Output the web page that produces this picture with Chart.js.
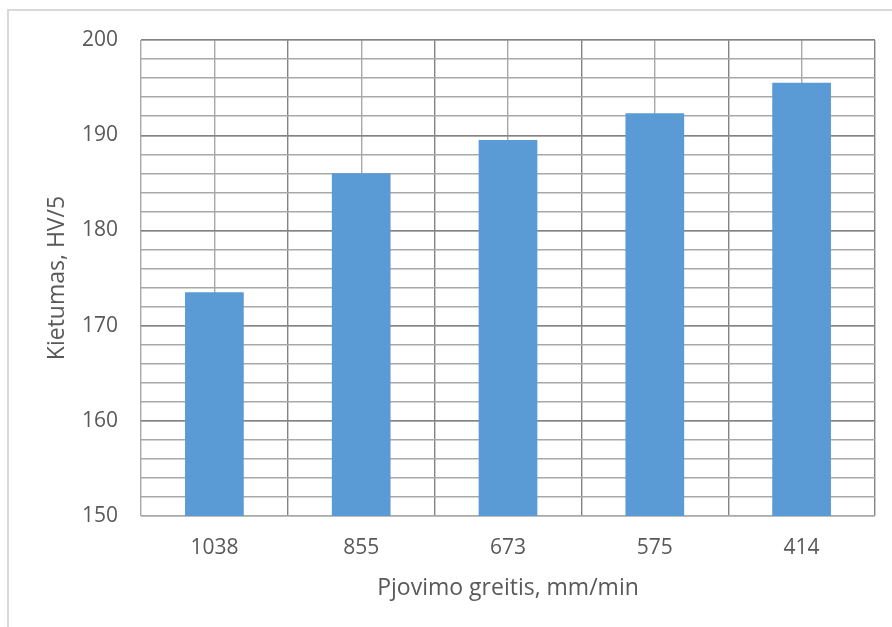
<!DOCTYPE html>
<html>
<head>
<meta charset="utf-8">
<script src="https://cdn.jsdelivr.net/npm/chart.js@4/dist/chart.umd.min.js"></script>
<style>
  html, body { margin: 0; padding: 0; background: #ffffff; overflow: hidden; }
  #wrap { position: relative; width: 892px; height: 627px; overflow: hidden; }
  #frame { position: absolute; left: 7px; top: 9px; width: 1200px; height: 1200px;
           border: 2px solid #d9d9d9; box-sizing: border-box; }
  canvas { position: absolute; left: 0; top: 0; }
</style>
</head>
<body>
<div id="wrap">
  <div id="frame"></div>
  <canvas id="chart" width="892" height="627"></canvas>
</div>
<script>
// Cutting speed categories (mm/min) and measured hardness (HV/5)
const speeds = ['1038', '855', '673', '575', '414'];
const hardness = [173.5, 186.0, 189.5, 192.3, 195.5];
const yTicks = [150, 160, 170, 180, 190, 200];

const TEXT = '#595959';
const MAJOR = '#838383';
const MINOR = '#a8a8a8';
const FONT = "'Open Sans', 'Liberation Sans', sans-serif";

new Chart(document.getElementById('chart'), {
  type: 'bar',
  data: {
    labels: speeds,
    datasets: [{
      data: hardness,
      backgroundColor: '#5b9bd5',
      borderWidth: 0,
      categoryPercentage: 1.0,
      barPercentage: 0.4
    }]
  },
  options: {
    responsive: false,
    animation: false,
    layout: { padding: { top: 40, right: 17, left: 0, bottom: 0 } },
    plugins: { legend: { display: false }, tooltip: { enabled: false } },
    scales: {
      xMinor: {
        type: 'category',
        position: 'bottom',
        offset: true,
        display: true,
        grid: { offset: false, color: MINOR, lineWidth: 1.4, drawTicks: false },
        border: { display: false },
        ticks: { display: false },
        afterFit: s => { s.height = 0; }
      },
      x: {
        type: 'category',
        position: 'bottom',
        offset: true,
        grid: {
          offset: true,
          lineWidth: 1.4,
          drawTicks: false,
          color: ctx => (ctx.index === 0 ? MINOR : MAJOR)
        },
        border: { display: false },
        ticks: { color: TEXT, font: { family: FONT, size: 21 }, padding: 19 },
        title: {
          display: true,
          text: 'Pjovimo greitis, mm/min',
          color: TEXT,
          font: { family: FONT, size: 23 },
          padding: { top: 0, bottom: 25 }
        },
        afterFit: s => { s.height = 111; }
      },
      yMinor: {
        type: 'linear',
        position: 'left',
        min: 150,
        max: 200,
        grid: { color: MINOR, lineWidth: 1.4, drawTicks: false },
        border: { display: false },
        ticks: { display: false, stepSize: 2 },
        afterFit: s => { s.width = 0; }
      },
      y: {
        type: 'linear',
        position: 'left',
        min: 150,
        max: 200,
        grid: {
          lineWidth: 1.4,
          drawTicks: false,
          color: ctx => (ctx.tick && ctx.tick.value === 150 ? MINOR : MAJOR)
        },
        border: { display: false },
        afterBuildTicks: s => { s.ticks = yTicks.map(v => ({ value: v })); },
        ticks: { color: TEXT, font: { family: FONT, size: 21 }, padding: 23 },
        title: {
          display: true,
          text: 'Kietumas, HV/5',
          color: TEXT,
          font: { family: FONT, size: 23 },
          padding: { top: 44, bottom: 0 }
        },
        afterFit: s => { s.width = 141; }
      }
    }
  }
});
</script>
</body>
</html>
